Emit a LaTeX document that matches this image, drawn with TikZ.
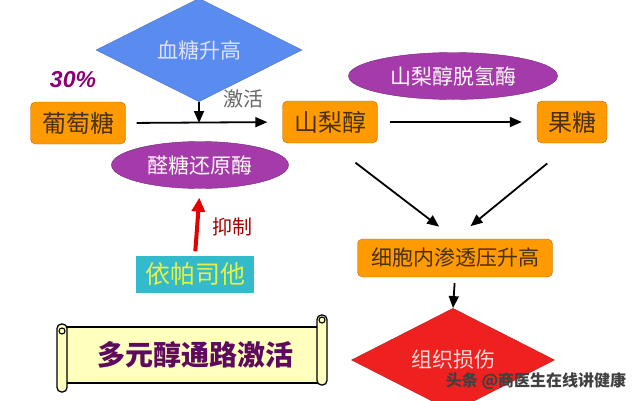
\documentclass[tikz,border=0pt]{standalone}
\usepackage{fontspec}
\setmainfont{Liberation Sans}
\newfontfamily\cjk{Noto Sans CJK SC}
\usetikzlibrary{shapes.geometric,arrows.meta}
\definecolor{boxorange}{HTML}{FF9A00}
\definecolor{orangeline}{HTML}{B86A10}
\definecolor{boxtext}{HTML}{4A3010}
\definecolor{skyblue}{HTML}{5A8CF0}
\definecolor{enzpurple}{HTML}{A53AAA}
\definecolor{harmred}{HTML}{EE2020}
\definecolor{epateal}{HTML}{33BACB}
\definecolor{epayellow}{HTML}{E8F040}
\definecolor{scrollfill}{HTML}{FFFFBE}
\definecolor{scrolltext}{HTML}{5E0A5E}

\begin{document}
\begin{tikzpicture}[x=1pt,y=-1pt,
            orangebox/.style={draw=orangeline, fill=boxorange, rounded corners=5pt, minimum height=42pt, inner sep=0pt, text=boxtext, font=\cjk\fontsize{24}{24}\selectfont},
            enzyme/.style={shape=ellipse, draw=enzpurple!70!black, fill=enzpurple, inner sep=0pt, minimum height=47pt, text=white!90!pink, font=\cjk\fontsize{21}{21}\selectfont},
            flow/.style={-{Triangle[length=12pt,width=10pt]}, line width=1.8pt, black}]
            \useasboundingbox (0,0) rectangle (640,400);
            \fill[white] (0,0) rectangle (640,400);

            \node[shape=diamond, draw=skyblue!80!black, fill=skyblue, minimum width=206pt, minimum height=66pt, inner sep=0pt, text=white!88!blue, font=\cjk\fontsize{21}{21}\selectfont] (high) at (199,50) {血糖升高};
            \node[font=\bfseries\itshape\fontsize{23}{23}\selectfont, text=violet!80!purple] (pct) at (73,80) {30\%};

            \node[orangebox, minimum width=95pt] (glu) at (78,123) {葡萄糖};
            \node[orangebox, minimum width=95pt] (sorb) at (330,122) {山梨醇};
            \node[orangebox, minimum width=70pt] (fruct) at (572,122) {果糖};
            \node[orangebox, minimum width=195pt, minimum height=38pt, font=\cjk\fontsize{21}{21}\selectfont] (cell) at (455,258) {细胞内渗透压升高};

            \node[enzyme, minimum width=177pt] (ar) at (200,165) {醛糖还原酶};
            \node[enzyme, minimum width=209pt] (sdh) at (453,76) {山梨醇脱氢酶};

            \node[shape=diamond, draw=harmred!80!black, fill=harmred, minimum width=203pt, minimum height=66pt, inner sep=0pt, text=white!85!red, font=\cjk\fontsize{21}{21}\selectfont] (harm) at (453,360) {组织损伤};

            \node[fill=epateal, minimum width=118pt, minimum height=37pt, inner sep=0pt, text=epayellow, font=\cjk\fontsize{25}{25}\selectfont] (epa) at (195,274) {依帕司他};

            \node[text=gray!80!black, font=\cjk\fontsize{20}{20}\selectfont] (act) at (243,99) {激活};
            \node[text=red!65!black, font=\cjk\fontsize{20}{20}\selectfont] (inh) at (232,227) {抑制};

            \coordinate (meet) at (199,123);
            \draw[flow, shorten <=11pt, shorten >=15pt] (glu.east) -- (sorb.west);
            \draw[flow] (high.south) -- (meet);
            \draw[flow, shorten <=12pt, shorten >=15pt] (sorb.east) -- (fruct.west);
            \draw[flow, shorten <=32pt, shorten >=20pt] (sorb.south) -- (cell.north);
            \draw[flow, shorten <=32pt, shorten >=20pt] (fruct.south) -- (cell.north);
            \draw[flow, shorten <=6pt] (cell.south) -- (harm.north);
            \draw[-{Triangle[length=14pt,width=13pt]}, line width=4pt, red!90!black, shorten <=4pt, shorten >=9pt] (epa.north) -- (ar.south);

            \draw[line width=1.3pt, fill=scrollfill] (62,327) rectangle (322,383);
            \draw[line width=1.3pt, fill=scrollfill, rounded corners=4.5pt] (57,324) rectangle (67,392);
            \draw[line width=1.1pt] (62,331) circle (3pt);
            \draw[line width=1.3pt, fill=scrollfill, rounded corners=4.5pt] (317,315) rectangle (327,385);
            \draw[line width=1.1pt] (322,320) circle (3pt);
            \node[text=scrolltext, font=\cjk\bfseries\fontsize{28}{28}\selectfont] (title) at (195,355) {多元醇通路激活};

            \node[text=black!75, font=\cjk\bfseries\fontsize{16}{16}\selectfont] (mark) at (536,381) {头条 @商医生在线讲健康};
        \end{tikzpicture}
\end{document}
